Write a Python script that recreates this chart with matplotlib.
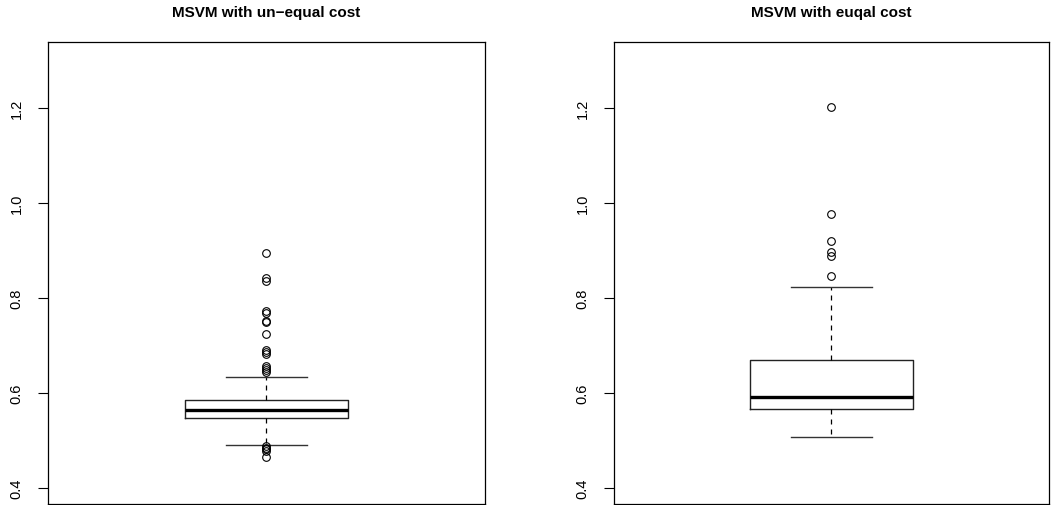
import matplotlib
matplotlib.use("Agg")
import matplotlib.pyplot as plt

plt.rcParams['font.family'] = ['Liberation Sans', 'DejaVu Sans']

titles = ["MSVM with un\u2212equal cost", "MSVM with euqal cost"]

# box summaries
medians = [0.565, 0.591]
q1s = [0.548, 0.567]
q3s = [0.585, 0.670]
whis_lo = [0.490, 0.507]
whis_hi = [0.633, 0.823]

fliers_unequal = [0.895, 0.842, 0.836, 0.773, 0.768, 0.751, 0.749, 0.725,
                  0.691, 0.686, 0.683, 0.657, 0.652, 0.648, 0.645,
                  0.488, 0.485, 0.482, 0.479, 0.466]
fliers_equal = [1.202, 0.977, 0.919, 0.897, 0.889, 0.845]
fliers = [fliers_unequal, fliers_equal]

yticks = [0.4, 0.6, 0.8, 1.0, 1.2]
ylims = (0.367, 1.337)

fig = plt.figure(figsize=(10.54, 5.06), dpi=100)
positions = [[0.0453, 0.002, 0.4148, 0.9124], [0.5823, 0.002, 0.4130, 0.9124]]

for i in range(2):
    ax = fig.add_axes(positions[i])
    stats = [{
        'med': medians[i], 'q1': q1s[i], 'q3': q3s[i],
        'whislo': whis_lo[i], 'whishi': whis_hi[i],
        'fliers': fliers[i],
    }]
    ax.bxp(stats, positions=[1], widths=0.373, showfliers=True,
           boxprops=dict(color='#222222', linewidth=1.0),
           medianprops=dict(color='black', linewidth=2.4),
           whiskerprops=dict(color='black', linewidth=0.9, linestyle=(0, (4, 4))),
           capprops=dict(color='#333333', linewidth=1.0),
           capwidths=0.186,
           flierprops=dict(marker='o', markerfacecolor='none', markeredgecolor='black',
                           markersize=5.5, markeredgewidth=0.8))
    ax.set_xlim(0.5, 1.5)
    ax.set_ylim(*ylims)
    ax.set_xticks([])
    ax.set_yticks(yticks)
    ax.set_yticklabels([f"{v:.1f}" for v in yticks], rotation=90, va='center', fontsize=10.5)
    ax.tick_params(axis='y', length=7.2, width=0.8, pad=10, direction='out')
    for s in ax.spines.values():
        s.set_linewidth(0.9)
    ax.set_title(titles[i], fontsize=11, fontweight='bold', pad=19)

fig.savefig("out.png", dpi=100)
